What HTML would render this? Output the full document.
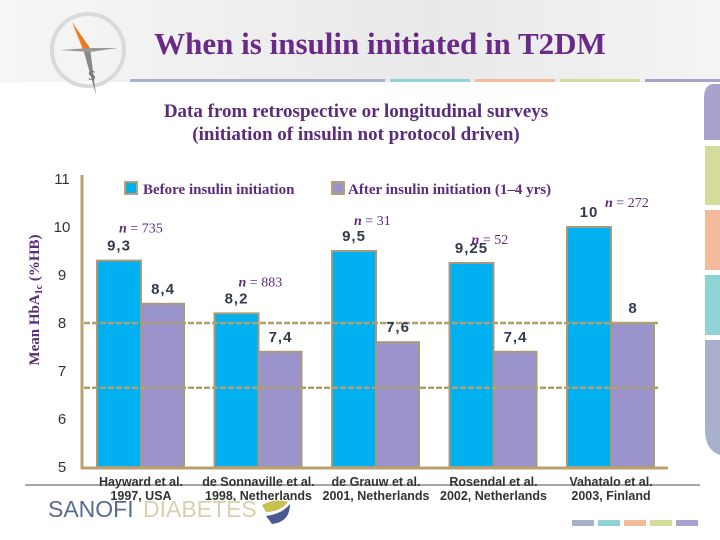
<!DOCTYPE html>
<html><head><meta charset="utf-8"><style>
body{margin:0;background:#fff;}
svg{display:block;font-family:"Liberation Sans",sans-serif;}
.serif{font-family:"Liberation Serif",serif;}
</style></head><body>
<svg id="chart" width="720" height="540" viewBox="0 0 720 540">
<defs><linearGradient id="bg" x1="0" y1="0" x2="1" y2="0"><stop offset="0" stop-color="#f6f6f6"/><stop offset="0.6" stop-color="#e9e9e9"/><stop offset="1" stop-color="#f4f4f4"/></linearGradient></defs>
<rect x="0" y="0" width="720" height="82" fill="url(#bg)"/>
<g>
<circle cx="88" cy="50" r="36" fill="none" stroke="#dadada" stroke-width="4"/>
<polygon points="72,22 90,48 84,52" fill="#f07a20"/>
<polygon points="90,48 96,95 84,52" fill="#888"/>
<polygon points="60,50 90,48 118,48 90,52" fill="#999"/>
<text x="88" y="80" font-size="14" class="serif" fill="#666">S</text>
</g>
<text x="380" y="54" text-anchor="middle" class="serif" font-size="31" font-weight="bold" fill="#6a2a8a">When is insulin initiated in T2DM</text>
<g>
<rect x="130" y="79" width="255" height="3" fill="#a8b0cc"/><rect x="390" y="79" width="80" height="3" fill="#8fd4d4"/>
<rect x="475" y="79" width="80" height="3" fill="#f2bc9c"/><rect x="560" y="79" width="80" height="3" fill="#d4dc9c"/>
<rect x="645" y="79" width="75" height="3" fill="#a9a2cc"/></g>
<g>
<path d="M720,84 L712,84 Q704,86 704,98 L704,140 L720,140 Z" fill="#a9a2cc"/>
<rect x="705" y="146" width="15" height="59" fill="#d4dc9c"/>
<rect x="705" y="210" width="15" height="60" fill="#f2bc9c"/>
<rect x="705" y="275" width="15" height="60" fill="#8fd4d4"/>
<path d="M705,340 L720,340 L720,455 Q705,450 705,430 Z" fill="#a8b0cc"/></g>
<text x="356" y="117" text-anchor="middle" class="serif" font-size="19" font-weight="bold" fill="#5b2c7c">Data from retrospective or longitudinal surveys</text>
<text x="356" y="140" text-anchor="middle" class="serif" font-size="19" font-weight="bold" fill="#5b2c7c">(initiation of insulin not protocol driven)</text>
<line x1="25" y1="485" x2="700" y2="485" stroke="#888" stroke-width="1.5"/>
<g id="plot"></g>
<g>
<text x="48" y="517" font-size="23" fill="#5a6a92">SANOFI</text>
<text x="143" y="517" font-size="23" fill="#d8cfb0">DIABETES</text>
<path d="M262,505 Q275,498 288,502 Q280,512 266,512 Z" fill="#c8c050"/>
<path d="M266,516 Q282,514 290,504 Q290,522 272,524 Z" fill="#4a5a90"/></g>
<g>
<rect x="572" y="520" width="22" height="6" fill="#a8b0cc"/><rect x="598" y="520" width="22" height="6" fill="#8fd4d4"/>
<rect x="624" y="520" width="22" height="6" fill="#f2bc9c"/><rect x="650" y="520" width="22" height="6" fill="#d4dc9c"/>
<rect x="676" y="520" width="22" height="6" fill="#a9a2cc"/></g>
</svg>
<script>
const categories1=["Hayward et al.","de Sonnaville et al.","de Grauw et al.","Rosendal et al.","Vahatalo et al."];
const categories2=["1997, USA","1998, Netherlands","2001, Netherlands","2002, Netherlands","2003, Finland"];
const beforeValues=[9.3,8.2,9.5,9.25,10];
const afterValues=[8.4,7.4,7.6,7.4,8];
const beforeLabels=["9,3","8,2","9,5","9,25","10"];
const afterLabels=["8,4","7,4","7,6","7,4","8"];
const nLabels=["735","883","31","52","272"];
const yTicks=[5,6,7,8,9,10,11];
const refLines=[8,6.65];

const NS="http://www.w3.org/2000/svg";
const plot=document.getElementById('plot');
function y(v){return 467-(v-5)*48;}
function gx(i){return 97+i*117.5;}
const BW=44;
const nDy=[-28,-27,-26,-19,-20];
const nDxAbs=[22,24,22,22,38];
function mk(tag,attrs,text){const e=document.createElementNS(NS,tag);for(const k in attrs)e.setAttribute(k,attrs[k]);if(text!==undefined)e.textContent=text;plot.appendChild(e);return e;}

yTicks.forEach(t=>{
  const e=mk('text',{x:62,y:y(t)+5,'text-anchor':'middle','font-size':15,fill:'#333'},String(t));
  
  
});
const yl=mk('text',{transform:'translate(39,300) rotate(-90)','text-anchor':'middle','font-size':15,'font-weight':'bold',fill:'#5b2c7c','font-family':'Liberation Serif, serif'});
yl.innerHTML='Mean HbA<tspan font-size="10" dy="3">1c</tspan><tspan dy="-3"> (%HB)</tspan>';



beforeValues.forEach((v,i)=>{
  const b=mk('rect',{x:gx(i),y:y(v),width:BW,height:y(5)-y(v),fill:'#00b0f0',stroke:'#a89a78','stroke-width':2});
  
  
  const a=mk('rect',{x:gx(i)+BW,y:y(afterValues[i]),width:BW-1,height:y(5)-y(afterValues[i]),fill:'#9b94cc',stroke:'#a89a78','stroke-width':2});
  
  
});
refLines.forEach(r=>{
  const l=mk('line',{x1:84,x2:660,y1:y(r),y2:y(r),stroke:'#b0a070','stroke-width':2.5,'stroke-dasharray':'6,2'});
  
  
});
beforeValues.forEach((v,i)=>{
  const t=mk('text',{x:gx(i)+BW/2,y:y(v)-10,'text-anchor':'middle','font-size':15,'font-weight':'bold',fill:'#333a4a','letter-spacing':'1'},beforeLabels[i]);
  
  
  const t2=mk('text',{x:gx(i)+BW*1.5,y:y(afterValues[i])-10,'text-anchor':'middle','font-size':15,'font-weight':'bold',fill:'#333a4a','letter-spacing':'1'},afterLabels[i]);
  
  
  const n=mk('text',{x:gx(i)+nDxAbs[i],y:y(v)+nDy[i],'font-size':14,fill:'#5b2c7c','font-family':'Liberation Serif, serif'});
  n.innerHTML='<tspan font-style="italic" font-weight="bold">n</tspan> = '+nLabels[i];
  
  
  const c1=mk('text',{x:gx(i)+BW,y:486,'text-anchor':'middle','font-size':12.5,'font-weight':'bold',fill:'#333'},categories1[i]);
  
  
  const c2=mk('text',{x:gx(i)+BW,y:500,'text-anchor':'middle','font-size':12.5,'font-weight':'bold',fill:'#333'},categories2[i]);
  
  
});
const ax=mk('line',{x1:82,y1:175,x2:82,y2:469,stroke:'#b8a070','stroke-width':3});


const bx=mk('line',{x1:81,y1:468,x2:668,y2:468,stroke:'#b8a070','stroke-width':3});


const lg1=mk('rect',{x:125,y:182,width:12,height:12,fill:'#00b0f0',stroke:'#b8a070','stroke-width':2});


const lt1=mk('text',{x:143,y:194,'font-size':15,'font-weight':'bold',fill:'#5b2c7c','font-family':'Liberation Serif, serif'},'Before insulin initiation');


const lg2=mk('rect',{x:332,y:182,width:12,height:12,fill:'#9b94cc',stroke:'#b8a070','stroke-width':2});


const lt2=mk('text',{x:348,y:194,'font-size':15,'font-weight':'bold',fill:'#5b2c7c','font-family':'Liberation Serif, serif'},'After insulin initiation (1–4 yrs)');


</script>
</body></html>
